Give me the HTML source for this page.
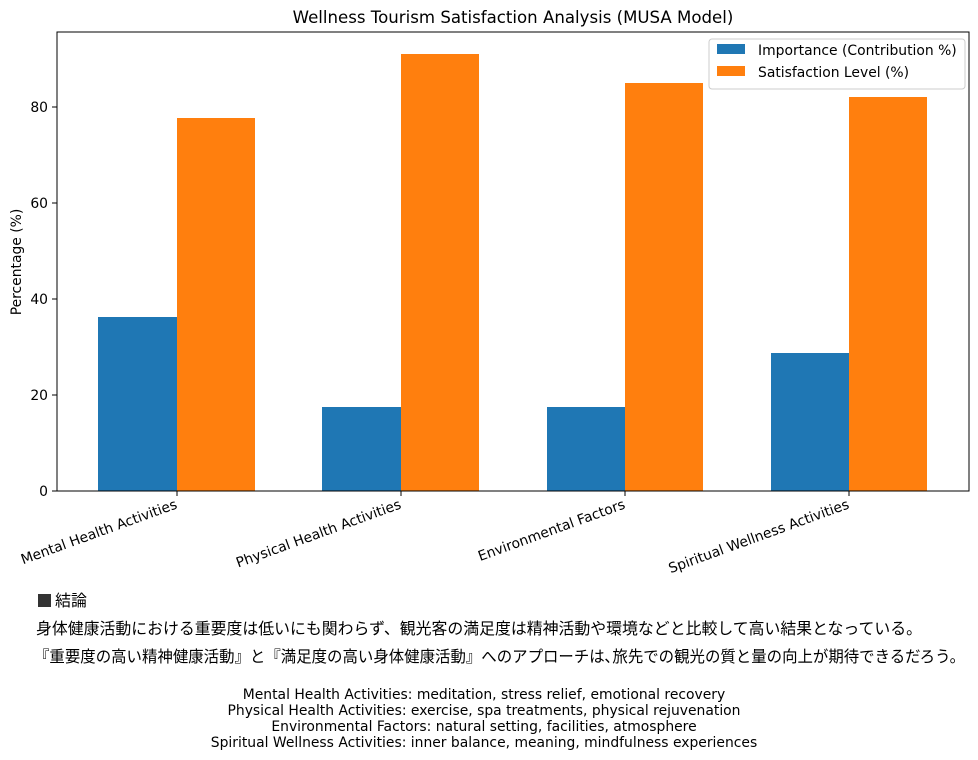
<!DOCTYPE html>
<html><head><meta charset="utf-8"><style>body{margin:0;background:#fff}svg{display:block}</style></head><body>
<svg width="978" height="760" xmlns="http://www.w3.org/2000/svg" font-family="DejaVu Sans, Liberation Sans, sans-serif">
<rect width="978" height="760" fill="#fff"/>
<text x="513" y="23" font-size="16.6" text-anchor="middle" fill="#000">Wellness Tourism Satisfaction Analysis (MUSA Model)</text>
<g fill="#1f77b4">
<rect x="98" y="317" width="79" height="174"/>
<rect x="322" y="407" width="79" height="84"/>
<rect x="547" y="407" width="78" height="84"/>
<rect x="771" y="353" width="78" height="138"/>
</g>
<g fill="#ff7f0e">
<rect x="177" y="118" width="78" height="373"/>
<rect x="401" y="54" width="78" height="437"/>
<rect x="625" y="83" width="78" height="408"/>
<rect x="849" y="97" width="78" height="394"/>
</g>
<rect x="57" y="32" width="912" height="459" fill="none" stroke="#000" stroke-width="1"/>
<g stroke="#000" stroke-width="1">
<line x1="52" x2="57" y1="491" y2="491"/><line x1="52" x2="57" y1="395" y2="395"/>
<line x1="52" x2="57" y1="299" y2="299"/><line x1="52" x2="57" y1="203" y2="203"/>
<line x1="52" x2="57" y1="107" y2="107"/>
<line x1="177" x2="177" y1="491" y2="496"/><line x1="401" x2="401" y1="491" y2="496"/>
<line x1="625" x2="625" y1="491" y2="496"/><line x1="849" x2="849" y1="491" y2="496"/>
</g>
<g font-size="13.9" text-anchor="end" fill="#000">
<text x="48" y="496">0</text><text x="48" y="400">20</text><text x="48" y="304">40</text>
<text x="48" y="208">60</text><text x="48" y="112">80</text>
</g>
<text transform="translate(21,262) rotate(-90)" font-size="13.9" text-anchor="middle">Percentage (%)</text>
<g font-size="13.9" text-anchor="end" fill="#000">
<text transform="translate(178,508) rotate(-20)">Mental Health Activities</text>
<text transform="translate(402,508) rotate(-20)">Physical Health Activities</text>
<text transform="translate(626,508) rotate(-20)">Environmental Factors</text>
<text transform="translate(850,508) rotate(-20)">Spiritual Wellness Activities</text>
</g>
<rect x="709" y="39" width="256" height="50" fill="#fff" stroke="#ccc" rx="3"/>
<rect x="717" y="44" width="28" height="10" fill="#1f77b4"/>
<rect x="717" y="66" width="28" height="10" fill="#ff7f0e"/>
<text x="758" y="55" font-size="13.9">Importance (Contribution %)</text>
<text x="758" y="77" font-size="13.9">Satisfaction Level (%)</text>
<g font-family="Liberation Sans, Noto Sans CJK JP, sans-serif" font-size="16" fill="#000">
<rect x="38" y="594" width="13" height="13" fill="#333"/>
<text x="55" y="606">結論</text>
<text x="36" y="634" textLength="886" lengthAdjust="spacingAndGlyphs">身体健康活動における重要度は低いにも関わらず、観光客の満足度は精神活動や環境などと比較して高い結果となっている。</text>
<text x="34" y="662" textLength="931" lengthAdjust="spacingAndGlyphs">『重要度の高い精神健康活動』と『満足度の高い身体健康活動』へのアプローチは､旅先での観光の質と量の向上が期待できるだろう。</text>
</g>
<g font-size="13.9" text-anchor="middle" fill="#000">
<text x="484" y="699">Mental Health Activities: meditation, stress relief, emotional recovery</text>
<text x="484" y="715">Physical Health Activities: exercise, spa treatments, physical rejuvenation</text>
<text x="484" y="731">Environmental Factors: natural setting, facilities, atmosphere</text>
<text x="484" y="747">Spiritual Wellness Activities: inner balance, meaning, mindfulness experiences</text>
</g>
</svg>
</body></html>
